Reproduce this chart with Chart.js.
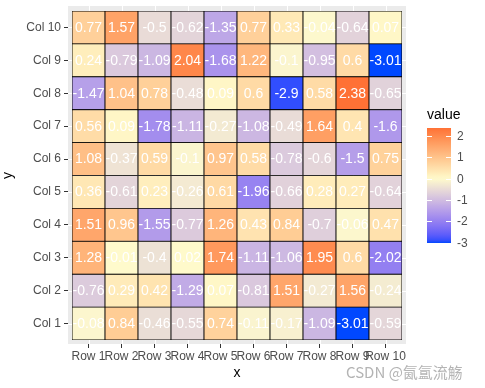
<!DOCTYPE html>
<html>
<head>
<meta charset="utf-8">
<script src="https://cdn.jsdelivr.net/npm/chart.js@4"></script>
<style>
  html, body { margin: 0; padding: 0; background: #ffffff; }
  #wrap { width: 485px; height: 388px; }
</style>
</head>
<body>
<div id="wrap"><canvas id="heat" width="485" height="388"></canvas></div>
<script>
// x categories and y categories
const xLabels = ['Row 1', 'Row 2', 'Row 3', 'Row 4', 'Row 5', 'Row 6', 'Row 7', 'Row 8', 'Row 9', 'Row 10'];
const yLabels = ['Col 1', 'Col 2', 'Col 3', 'Col 4', 'Col 5', 'Col 6', 'Col 7', 'Col 8', 'Col 9', 'Col 10'];

// values of each y row, read left to right (Row 1 .. Row 10)
const col1  = [-0.08, 0.84, -0.46, -0.55, 0.74, -0.11, -0.17, -1.09, -3.01, -0.59];
const col2  = [-0.76, 0.29, 0.42, -1.29, 0.07, -0.81, 1.51, -0.27, 1.56, -0.24];
const col3  = [1.28, -0.01, -0.4, 0.02, 1.74, -1.11, -1.06, 1.95, 0.6, -2.02];
const col4  = [1.51, 0.96, -1.55, -0.77, 1.26, 0.43, 0.84, -0.7, -0.06, 0.47];
const col5  = [0.36, -0.61, 0.23, -0.26, 0.61, -1.96, -0.66, 0.28, 0.27, -0.64];
const col6  = [1.08, -0.37, 0.59, -0.1, 0.97, 0.58, -0.78, -0.6, -1.5, 0.75];
const col7  = [0.56, 0.09, -1.78, -1.11, -0.27, -1.08, -0.49, 1.64, 0.4, -1.6];
const col8  = [-1.47, 1.04, 0.78, -0.48, 0.09, 0.6, -2.9, 0.58, 2.38, -0.65];
const col9  = [0.24, -0.79, -1.09, 2.04, -1.68, 1.22, -0.1, -0.95, 0.6, -3.01];
const col10 = [0.77, 1.57, -0.5, -0.62, -1.35, 0.77, 0.33, -0.04, -0.64, 0.07];
const cols = [col1, col2, col3, col4, col5, col6, col7, col8, col9, col10];

// legend breaks
const legendTicks = [2, 1, 0, -1, -2, -3];

const lowColor = '#0048ff';
const midColor = '#fffbcc';
const highColor = '#ff4000';

/* colour helpers, interpolated in Lab like ggplot */
function hexToRgb(h) {
  return [parseInt(h.slice(1, 3), 16), parseInt(h.slice(3, 5), 16), parseInt(h.slice(5, 7), 16)];
}
function toLinear(c) { c /= 255; return c <= 0.04045 ? c / 12.92 : Math.pow((c + 0.055) / 1.055, 2.4); }
function fromLinear(c) {
  c = c <= 0.0031308 ? 12.92 * c : 1.055 * Math.pow(c, 1 / 2.4) - 0.055;
  return Math.round(Math.max(0, Math.min(1, c)) * 255);
}
function rgbToLab(rgb) {
  const [r, g, b] = rgb.map(toLinear);
  const x = (r * 0.4124 + g * 0.3576 + b * 0.1805) / 0.95047;
  const y = r * 0.2126 + g * 0.7152 + b * 0.0722;
  const z = (r * 0.0193 + g * 0.1192 + b * 0.9505) / 1.08883;
  const f = t => t > 0.008856 ? Math.cbrt(t) : 7.787 * t + 16 / 116;
  const fx = f(x), fy = f(y), fz = f(z);
  return [116 * fy - 16, 500 * (fx - fy), 200 * (fy - fz)];
}
function labToRgb(lab) {
  const fy = (lab[0] + 16) / 116, fx = fy + lab[1] / 500, fz = fy - lab[2] / 200;
  const fi = t => t * t * t > 0.008856 ? t * t * t : (t - 16 / 116) / 7.787;
  const x = fi(fx) * 0.95047, y = fi(fy), z = fi(fz) * 1.08883;
  const r = x * 3.2406 - y * 1.5372 - z * 0.4986;
  const g = -x * 0.9689 + y * 1.8758 + z * 0.0415;
  const b = x * 0.0557 - y * 0.2040 + z * 1.0570;
  return [fromLinear(r), fromLinear(g), fromLinear(b)];
}
const labLow = rgbToLab(hexToRgb(lowColor));
const labMid = rgbToLab(hexToRgb(midColor));
const labHigh = rgbToLab(hexToRgb(highColor));

const allValues = cols.flat();
const minVal = Math.min(...allValues);
const maxVal = Math.max(...allValues);
const maxAbs = Math.max(Math.abs(minVal), Math.abs(maxVal));

function colourFor(v) {
  let t = v / maxAbs;
  let target = t < 0 ? labLow : labHigh;
  t = Math.abs(t);
  const lab = labMid.map((m, i) => m + (target[i] - m) * t);
  const rgb = labToRgb(lab);
  return 'rgb(' + rgb[0] + ',' + rgb[1] + ',' + rgb[2] + ')';
}

/* one stacked dataset per y row, each tile is one unit tall */
const datasets = cols.map((vals, j) => ({
  label: yLabels[j],
  data: vals.map(() => 1),
  values: vals,
  backgroundColor: vals.map(colourFor),
  borderColor: '#000000',
  borderWidth: 0.8,
  borderSkipped: false,
  categoryPercentage: 1,
  barPercentage: 1
}));

const panelPlugin = {
  id: 'panel',
  beforeDatasetsDraw(chart) {
    const ctx = chart.ctx;
    const a = chart.chartArea;
    ctx.save();
    ctx.fillStyle = '#ebebeb';
    ctx.fillRect(a.left - 4, a.top - 5, a.right - a.left + 8, a.bottom - a.top + 9);
    ctx.strokeStyle = '#ffffff';
    ctx.lineWidth = 1;
    const xs = chart.scales.x, ys = chart.scales.y;
    xs.ticks.forEach((t, i) => {
      const px = Math.round(xs.getPixelForTick(i)) + 0.5;
      ctx.beginPath(); ctx.moveTo(px, a.top - 5); ctx.lineTo(px, a.bottom + 4); ctx.stroke();
    });
    ys.ticks.forEach((t, i) => {
      const py = Math.round(ys.getPixelForTick(i)) + 0.5;
      ctx.beginPath(); ctx.moveTo(a.left - 4, py); ctx.lineTo(a.right + 4, py); ctx.stroke();
    });
    ctx.restore();
  }
};

const labelPlugin = {
  id: 'cellLabels',
  afterDatasetsDraw(chart) {
    const ctx = chart.ctx;
    ctx.save();
    ctx.fillStyle = '#ffffff';
    ctx.font = '14px "Liberation Sans", Arial, sans-serif';
    ctx.textAlign = 'center';
    ctx.textBaseline = 'middle';
    chart.data.datasets.forEach((ds, j) => {
      const meta = chart.getDatasetMeta(j);
      meta.data.forEach((bar, i) => {
        const c = bar.getCenterPoint();
        ctx.fillText(String(ds.values[i]), c.x, c.y + 0.5);
      });
    });
    ctx.restore();
  }
};

const legendPlugin = {
  id: 'colourbar',
  afterDraw(chart) {
    const ctx = chart.ctx;
    const barLeft = 427, barWidth = 24, barTop = 128, barBottom = 243;
    ctx.save();
    ctx.fillStyle = '#000000';
    ctx.font = '14px "Liberation Sans", Arial, sans-serif';
    ctx.textAlign = 'left';
    ctx.textBaseline = 'middle';
    ctx.fillText('value', barLeft, 115);

    const grad = ctx.createLinearGradient(0, barTop, 0, barBottom);
    for (let k = 0; k <= 40; k++) {
      const v = maxVal - (maxVal - minVal) * k / 40;
      grad.addColorStop(k / 40, colourFor(v));
    }
    ctx.fillStyle = grad;
    ctx.fillRect(barLeft, barTop, barWidth, barBottom - barTop);

    ctx.strokeStyle = '#ffffff';
    ctx.lineWidth = 1;
    ctx.font = '12px "Liberation Sans", Arial, sans-serif';
    legendTicks.forEach(v => {
      const y = Math.round(barBottom - (v - minVal) / (maxVal - minVal) * (barBottom - barTop)) + 0.5;
      ctx.beginPath();
      ctx.moveTo(barLeft, y); ctx.lineTo(barLeft + 5, y);
      ctx.moveTo(barLeft + barWidth - 5, y); ctx.lineTo(barLeft + barWidth, y);
      ctx.stroke();
      ctx.fillStyle = '#4d4d4d';
      ctx.fillText(String(v), barLeft + barWidth + 6, y);
    });

    // watermark
    ctx.fillStyle = '#b4b4b4';
    ctx.font = '15px "Noto Sans CJK SC", "Noto Sans", sans-serif';
    ctx.fillText('CSDN @氤氲流觞', 346, 372);
    ctx.restore();
  }
};

const config = {
  type: 'bar',
  data: { labels: xLabels, datasets: datasets },
  options: {
    responsive: false,
    animation: false,
    layout: { padding: { top: 11, right: 83, left: 0, bottom: 0 } },
    plugins: { legend: { display: false }, tooltip: { enabled: false } },
    scales: {
      x: {
        stacked: true,
        grid: { drawOnChartArea: false, drawTicks: true, tickLength: 8, tickColor: '#333333', offset: false },
        border: { display: false },
        ticks: { color: '#4d4d4d', font: { family: '"Liberation Sans", Arial, sans-serif', size: 12 }, padding: 1, maxRotation: 0, autoSkip: false },
        title: { display: true, text: 'x', color: '#000000', font: { family: '"Liberation Sans", Arial, sans-serif', size: 14 }, padding: { top: 0, bottom: 6 } },
        afterFit: s => { s.height = 48; }
      },
      y: {
        stacked: true,
        min: 0,
        max: 10,
        afterBuildTicks: axis => { axis.ticks = yLabels.map((l, i) => ({ value: i + 0.5 })); },
        grid: { drawOnChartArea: false, drawTicks: true, tickLength: 8, tickColor: '#333333' },
        border: { display: false },
        ticks: {
          color: '#4d4d4d',
          font: { family: '"Liberation Sans", Arial, sans-serif', size: 12 },
          padding: 3,
          autoSkip: false,
          callback: v => yLabels[Math.round(v - 0.5)]
        },
        title: { display: true, text: 'y', color: '#000000', font: { family: '"Liberation Sans", Arial, sans-serif', size: 14 }, padding: { top: 0, bottom: 8 } },
        afterFit: s => { s.width = 72; }
      }
    }
  },
  plugins: [panelPlugin, labelPlugin, legendPlugin]
};

const chartHeat = new Chart(document.getElementById('heat'), config);
</script>
</body>
</html>
